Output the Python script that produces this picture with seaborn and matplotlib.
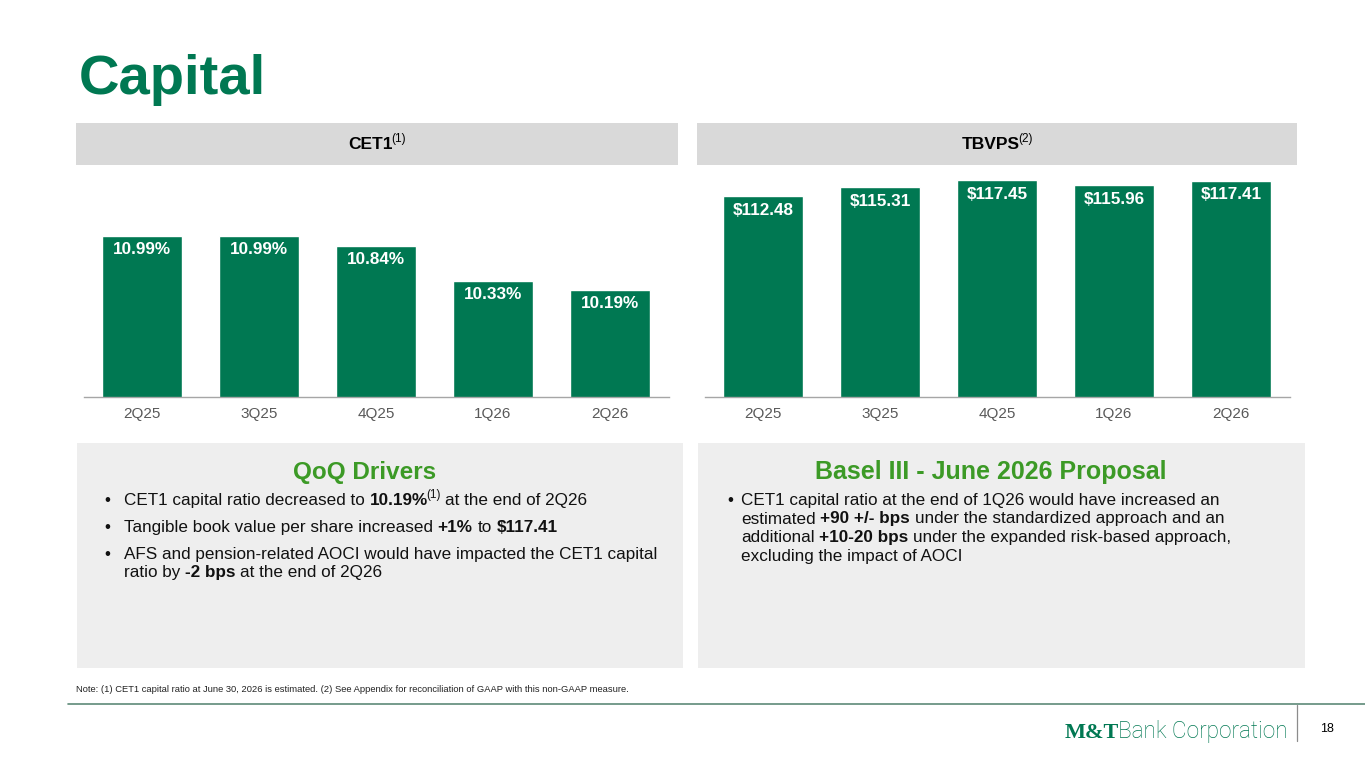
import matplotlib; matplotlib.use('Agg')
import matplotlib.pyplot as plt
import matplotlib.patches as mpatches
import matplotlib.lines as mlines
import seaborn as sns

# Data
quarters = ['2Q25', '3Q25', '4Q25', '1Q26', '2Q26']
cet1 = [10.99, 10.99, 10.84, 10.33, 10.19]
tbvps = [112.48, 115.31, 117.45, 115.96, 117.41]

GREEN = '#007852'
HEAD_GREEN = '#3C9A26'
BAND = '#D9D9D9'
BOX = '#EEEEEE'
TEXT = '#111111'

sns.set_theme(style='white')
plt.rcParams['font.family'] = ['Liberation Sans', 'DejaVu Sans']

W, H = 1365, 768
fig = plt.figure(figsize=(W / 100, H / 100), dpi=100)
fig.patch.set_facecolor('white')


def fx(x):
    return x / W


def fy(y):
    return 1 - y / H


def rect(x0, y0, x1, y1, color):
    fig.add_artist(mpatches.Rectangle((fx(x0), fy(y1)), (x1 - x0) / W, (y1 - y0) / H,
                                      transform=fig.transFigure, color=color, lw=0, zorder=0))


def runs_text(x, y, runs, size, color, align='left'):
    # draw a line made of plain / bold / superscript pieces
    r = fig.canvas.get_renderer()
    sp = 0.278 * size * 100 / 72
    items = []
    total = 0
    for txt, style in runs:
        fs = size * 0.68 if style == 'sup' else size
        wt = 'bold' if style == 'bold' else 'normal'
        lead = sp if txt.startswith(' ') else 0
        trail = sp if txt.endswith(' ') else 0
        if style == 'sup':
            lead -= 1.5
        t = fig.text(0, 0, txt.strip(), fontsize=fs, fontweight=wt, color=color,
                     va='baseline', ha='left')
        w = t.get_window_extent(r).width
        items.append((t, lead, w, trail, style))
        total += lead + w + trail
    cur = x - total / 2 if align == 'center' else x
    for t, lead, w, trail, style in items:
        dy = size * 0.42 * 100 / 72 if style == 'sup' else 0
        cur += lead
        t.set_position((fx(cur), fy(y - dy)))
        cur += w + trail


# title
fig.text(fx(79), fy(94), 'Capital', fontsize=40.5, fontweight='bold', color=GREEN,
         va='baseline', ha='left')

# header bands
rect(76, 123, 678, 165, BAND)
rect(697, 123, 1297, 165, BAND)
runs_text(377, 149, [('CET1', 'bold'), ('(1)', 'sup')], 12.5, 'black', align='center')
runs_text(997, 149, [('TBVPS', 'bold'), ('(2)', 'sup')], 12.5, 'black', align='center')


def bar_panel(left, values, ylim, fmt, off):
    ax = fig.add_axes([fx(left), fy(397), 585 / W, 232 / H])
    sns.barplot(x=quarters, y=values, color=GREEN, saturation=1, width=0.684, ax=ax)
    ax.set_xlim(-0.5, 4.5)
    ax.set_ylim(*ylim)
    ax.set_facecolor('none')
    for s in ['top', 'left', 'right']:
        ax.spines[s].set_visible(False)
    ax.spines['bottom'].set_color('#A6A6A6')
    ax.spines['bottom'].set_linewidth(1)
    ax.set_yticks([])
    ax.set_xlabel('')
    ax.set_ylabel('')
    ax.tick_params(axis='x', length=0, pad=7, labelsize=11, labelcolor='#595959')
    for i, v in enumerate(values):
        ax.annotate(fmt.format(v), (i, v), xytext=(0, off), textcoords='offset points',
                    ha='center', va='center', color='white', fontweight='bold', fontsize=12.3)
    return ax


bar_panel(83.5, cet1, (8.62, 12.04), '{:.2f}%', -9.5)
bar_panel(704.5, tbvps, (50.2, 122.25), '${:.2f}', -10)

# lower text boxes
rect(77, 443, 683, 668, BOX)
rect(698, 443, 1305, 668, BOX)

fig.text(fx(365), fy(472), 'QoQ Drivers', fontsize=17.5, fontweight='bold', color=HEAD_GREEN,
         ha='center', va='center')
fig.text(fx(991), fy(472), 'Basel III - June 2026 Proposal', fontsize=18, fontweight='bold',
         color=HEAD_GREEN, ha='center', va='center')

BS = 12.3
left_lines = [
    (505, True, [('CET1 capital ratio decreased to ', 'n'), ('10.19%', 'bold'), ('(1)', 'sup'),
                 (' at the end of 2Q26', 'n')]),
    (532, True, [('Tangible book value per share increased ', 'n'), ('+1%', 'bold'),
                 (' to ', 'n'), ('$117.41', 'bold')]),
    (559, True, [('AFS and pension-related AOCI would have impacted the CET1 capital', 'n')]),
    (577, False, [('ratio by ', 'n'), ('-2 bps', 'bold'), (' at the end of 2Q26', 'n')]),
]
for y, bullet, runs in left_lines:
    if bullet:
        fig.text(fx(104), fy(y), '•', fontsize=BS, color=TEXT, va='baseline', ha='left')
    runs_text(124, y, runs, BS, TEXT)

right_lines = [
    (505, True, [('CET1 capital ratio at the end of 1Q26 would have increased an', 'n')]),
    (523.5, False, [('estimated ', 'n'), ('+90 +/- bps', 'bold'),
                    (' under the standardized approach and an', 'n')]),
    (542, False, [('additional ', 'n'), ('+10-20 bps', 'bold'),
                  (' under the expanded risk-based approach,', 'n')]),
    (560.5, False, [('excluding the impact of AOCI', 'n')]),
]
for y, bullet, runs in right_lines:
    if bullet:
        fig.text(fx(727), fy(y), '•', fontsize=BS, color=TEXT, va='baseline', ha='left')
    runs_text(741, y, runs, BS, TEXT)

# footnote
fig.text(fx(76), fy(692), 'Note: (1) CET1 capital ratio at June 30, 2026 is estimated. (2) See Appendix '
         'for reconciliation of GAAP with this non-GAAP measure.', fontsize=6.75, color='#222222',
         va='baseline', ha='left')

# footer rule, logo, page number
fig.add_artist(mlines.Line2D([fx(68), fx(1365)], [fy(704), fy(704)], color='#5E8A78', lw=1.2,
                             transform=fig.transFigure))
fig.add_artist(mlines.Line2D([fx(1297), fx(1297)], [fy(705), fy(741)], color='#8C8C8C', lw=0.9,
                             transform=fig.transFigure))
fig.text(fx(1065), fy(738), 'M&T', fontsize=16, fontweight='bold', color=GREEN,
         family=['Liberation Serif', 'DejaVu Serif'], va='baseline', ha='left')
fig.text(fx(1118), fy(738), 'Bank Corporation', fontsize=16.3, fontweight='light', color=GREEN,
         family=['Roboto', 'Liberation Sans'], va='baseline', ha='left')
fig.text(fx(1327), fy(729), '18', fontsize=9, color='black', va='center', ha='center')

fig.savefig('out.png', dpi=100)
